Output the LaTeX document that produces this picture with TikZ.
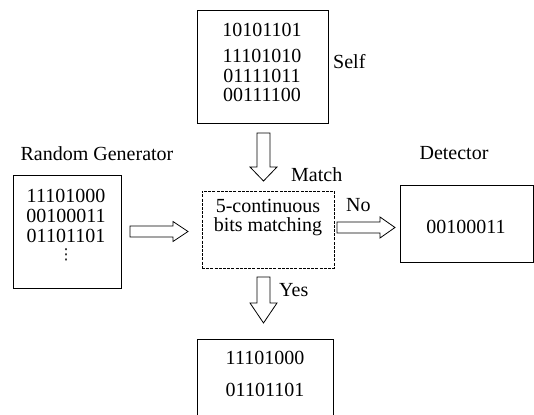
\documentclass[tikz,border=0pt]{standalone}
\usepackage{fontspec}
\setmainfont{Liberation Serif}
\newfontfamily\dvfont{DejaVu Sans}
\begin{document}
\begin{tikzpicture}[x=1pt,y=-1pt,
  box/.style={draw,line width=0.9pt,inner sep=0pt},
  dbox/.style={draw,line width=0.6pt,dash pattern=on 3pt off 1.2pt,inner sep=0pt},
  txt/.style={inner sep=0pt,font=\fontsize{20}{22}\selectfont},
  blk/.style={draw,line width=0.8pt,fill=white}]
\useasboundingbox (0,0) rectangle (534,414);
\clip (0,0) rectangle (534,414);
% boxes
\node[box,minimum width=131pt,minimum height=113pt] (self) at (262.5,66.5) {};
\node[box,minimum width=108pt,minimum height=113pt] (rg) at (67,231.5) {};
\node[dbox,minimum width=132pt,minimum height=77pt] (match) at (268,229.5) {};
\node[box,minimum width=133pt,minimum height=77pt] (det) at (466.5,223.5) {};
\node[box,minimum width=136pt,minimum height=91pt] (out) at (265,384.5) {};
% self texts
\node[txt] (s1) at (262,30) {10101101};
\node[txt] (s2) at (262,56) {11101010};
\node[txt] (s3) at (262,75.5) {01111011};
\node[txt] (s4) at (262,95) {00111100};
\node[txt,anchor=west] (selflbl) at (333,62) {Self};
% random generator
\node[txt] (rglbl) at (97,154) {Random Generator};
\node[txt] (r1) at (66,195.5) {11101000};
\node[txt] (r2) at (66,215.5) {00100011};
\node[txt] (r3) at (66,236) {01101101};
\node[inner sep=0pt,font=\dvfont\fontsize{15}{15}\selectfont] (r4) at (66,254.5) {⋮};
% matching
\node[txt] (m1) at (268,205.5) {5-continuous};
\node[txt] (m2) at (268,227) {bits matching};
\node[txt,anchor=west] (matchlbl) at (291,175) {Match};
% detector
\node[txt] (detlbl) at (454,153) {Detector};
\node[txt] (d1) at (466,227) {00100011};
\node[txt,anchor=west] (nolbl) at (346,205) {No};
% output
\node[txt] (o1) at (265,358) {11101000};
\node[txt] (o2) at (265,390) {01101101};
\node[txt,anchor=west] (yeslbl) at (279,290) {Yes};
% block arrows
\coordinate (a1) at (263.5,133);
\draw[blk] (a1) ++(-6.5,0) -- ++(0,34) -- ++(-7,0) -- (263.5,181) -- (277,167) -- ++(-7,0) -- ++(0,-34) -- cycle;
\coordinate (a2) at (263.5,277);
\draw[blk] (a2) ++(-6.5,0) -- ++(0,26) -- ++(-7,0) -- (263.5,323) -- (277,303) -- ++(-7,0) -- ++(0,-26) -- cycle;
\coordinate (a3) at (130,231.5);
\draw[blk] (a3) ++(0,-5.5) -- ++(43,0) -- ++(0,-4.5) -- (188,231.5) -- (173,241.5) -- ++(0,-4.5) -- ++(-43,0) -- cycle;
\coordinate (a4) at (337,227.5);
\draw[blk] (a4) ++(0,-5.5) -- ++(43,0) -- ++(0,-5) -- (395,227.5) -- (380,238) -- ++(0,-5) -- ++(-43,0) -- cycle;
\end{tikzpicture}
\end{document}
